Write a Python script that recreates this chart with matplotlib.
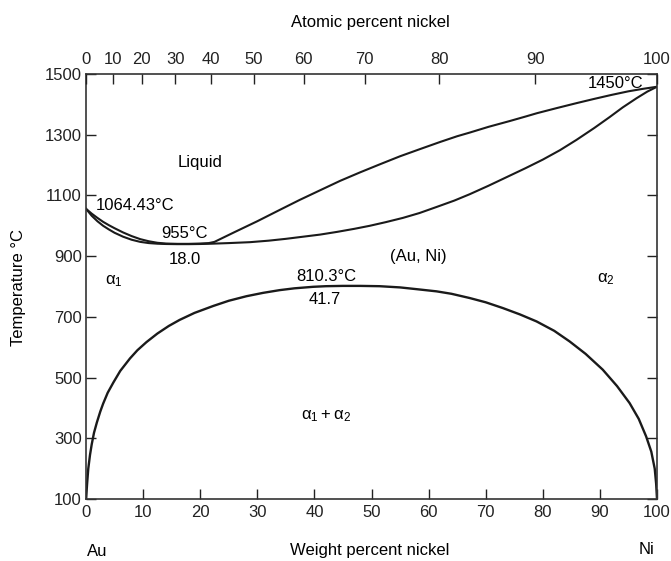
import matplotlib
matplotlib.use("Agg")
import matplotlib.pyplot as plt

plt.rcParams['font.family'] = ['Liberation Sans', 'DejaVu Sans']

# ---- data (weight percent Ni, temperature °C) ----
liquidus_wt = [0, 1, 2, 3, 4, 5, 6.5, 8, 9.5, 11, 12.5, 14, 16, 18, 20, 21.5, 22.5, 26, 30, 34,
               37.4, 41, 44.5, 48, 51.4, 55, 58.4, 62, 65, 67.2, 70.5, 74.2, 77, 79, 82.5, 85.9,
               89, 92, 95, 97.5, 100]
liquidus_T = [1056, 1040, 1026, 1013, 1002, 992, 978, 966, 956, 949, 944, 941.5, 940.5, 940.5, 941.5,
              943, 947, 979, 1015, 1053, 1085, 1117, 1148, 1176, 1202, 1229, 1252, 1276, 1295, 1307,
              1326, 1345, 1360, 1371, 1388, 1404, 1418, 1431, 1443, 1451, 1458]

solidus_wt = [0, 1, 2, 3, 4, 5, 6.5, 8, 9.5, 11, 12.5, 14, 16, 18, 20, 22, 25, 28.7, 32, 35, 38,
              41, 44, 47, 49.7, 52.5, 55.5, 58.4, 61.4, 64.5, 67.2, 70.5, 74.2, 77, 80, 83, 85.9,
              89, 91.7, 94, 96.4, 98.3, 100]
solidus_T = [1056, 1033, 1015, 1000, 988, 977, 964, 954, 947, 943, 941, 940, 939.5, 939.5, 940,
             941, 943, 946, 951, 957, 964, 971, 980, 990, 1000, 1012, 1026, 1042, 1062, 1083, 1104,
             1132, 1165, 1190, 1218, 1249, 1283, 1322, 1358, 1390, 1420, 1442, 1458]

gap_wt = [0, 0.1, 0.2, 0.4, 0.7, 1.0, 1.4, 1.9, 2.5, 3.0, 3.8, 4.8, 6.0, 7.7, 9.0, 10.6, 12.5,
          14.5, 16.4, 19, 22.3, 25, 28.1, 31, 33.9, 36.5, 39.8, 42, 45, 48, 51.4, 55, 58, 61.4,
          64, 67.2, 70, 73, 76, 78.9, 82, 84.7, 87.5, 90.5, 93, 95.2, 96.8, 98.1, 99, 99.6,
          99.85, 100]
gap_T = [100, 125, 152, 200, 245, 280, 318, 352, 388, 414, 450, 484, 522, 563, 590, 617, 645,
         670, 690, 713, 736, 753, 768, 779, 788, 794, 799, 801, 802, 802, 801, 797, 791, 784,
         776, 762, 748, 729, 708, 685, 654, 619, 578, 526, 472, 416, 364, 306, 256, 200,
         150, 100]

bottom_ticks = [0, 10, 20, 30, 40, 50, 60, 70, 80, 90, 100]
temp_ticks = [100, 300, 500, 700, 900, 1100, 1300, 1500]
atomic_labels = [0, 10, 20, 30, 40, 50, 60, 70, 80, 90, 100]
atomic_tick_wt = [0, 4.8, 9.75, 15.6, 21.9, 29.4, 38.1, 48.8, 61.9, 78.7, 100]

fig = plt.figure(figsize=(6.71, 5.61), dpi=100)
W, H = 671, 561
left, right, top, bottom = 86, 657, 74, 499
ax = fig.add_axes([left / W, 1 - bottom / H, (right - left) / W, (bottom - top) / H])

lc = '#1a1a1a'
ax.plot(liquidus_wt, liquidus_T, color=lc, lw=1.5, solid_joinstyle='round')
ax.plot(solidus_wt, solidus_T, color=lc, lw=1.5, solid_joinstyle='round')
ax.plot(gap_wt, gap_T, color=lc, lw=1.7, solid_joinstyle='round')

fs = 12
ax.set_xlim(0, 100)
ax.set_ylim(100, 1500)
ax.set_xticks(bottom_ticks)
ax.set_yticks(temp_ticks)
ax.tick_params(axis='both', direction='in', length=7, width=1, labelsize=fs,
               colors='#222222', right=True, top=False)
ax.tick_params(axis='x', pad=4)
ax.tick_params(axis='y', pad=3)
for s in ax.spines.values():
    s.set_linewidth(1.2)
    s.set_color('#333333')

ax2 = ax.twiny()
ax2.set_xlim(0, 100)
ax2.set_xticks(atomic_tick_wt)
ax2.set_xticklabels([str(a) for a in atomic_labels])
ax2.tick_params(axis='x', direction='in', length=7, width=1, labelsize=fs,
                colors='#222222', pad=5)
for s in ax2.spines.values():
    s.set_visible(False)

fig.text(370 / W, 1 - 23 / H, 'Atomic percent nickel', ha='center', va='center', fontsize=fs)
fig.text(370 / W, 1 - 551 / H, 'Weight percent nickel', ha='center', va='center', fontsize=fs)
fig.text(97 / W, 1 - 552 / H, 'Au', ha='center', va='center', fontsize=fs)
fig.text(647 / W, 1 - 550 / H, 'Ni', ha='center', va='center', fontsize=fs)
fig.text(19 / W, 1 - 287 / H, 'Temperature °C', ha='center', va='center', rotation=90, fontsize=fs)

def px(x, y):
    return ((x - left) / (right - left), (bottom - y) / (bottom - top))

def t(x, y, s, ha='center'):
    ax.text(*px(x, y), s, transform=ax.transAxes, ha=ha, va='center', fontsize=fs)

t(200, 163, 'Liquid')
t(96, 205, '1064.43°C', ha='left')
t(184, 233, '955°C')
t(185, 259, '18.0')
t(114, 281, r'$\mathregular{\alpha_1}$')
t(326, 276, '810.3°C')
t(325, 300, '41.7')
t(418, 257, '(Au, Ni)')
t(606, 279, r'$\mathregular{\alpha_2}$')
t(326, 416, r'$\mathregular{\alpha_1 + \alpha_2}$')
t(616, 83, '1450°C')

fig.savefig('out.png', dpi=100)
